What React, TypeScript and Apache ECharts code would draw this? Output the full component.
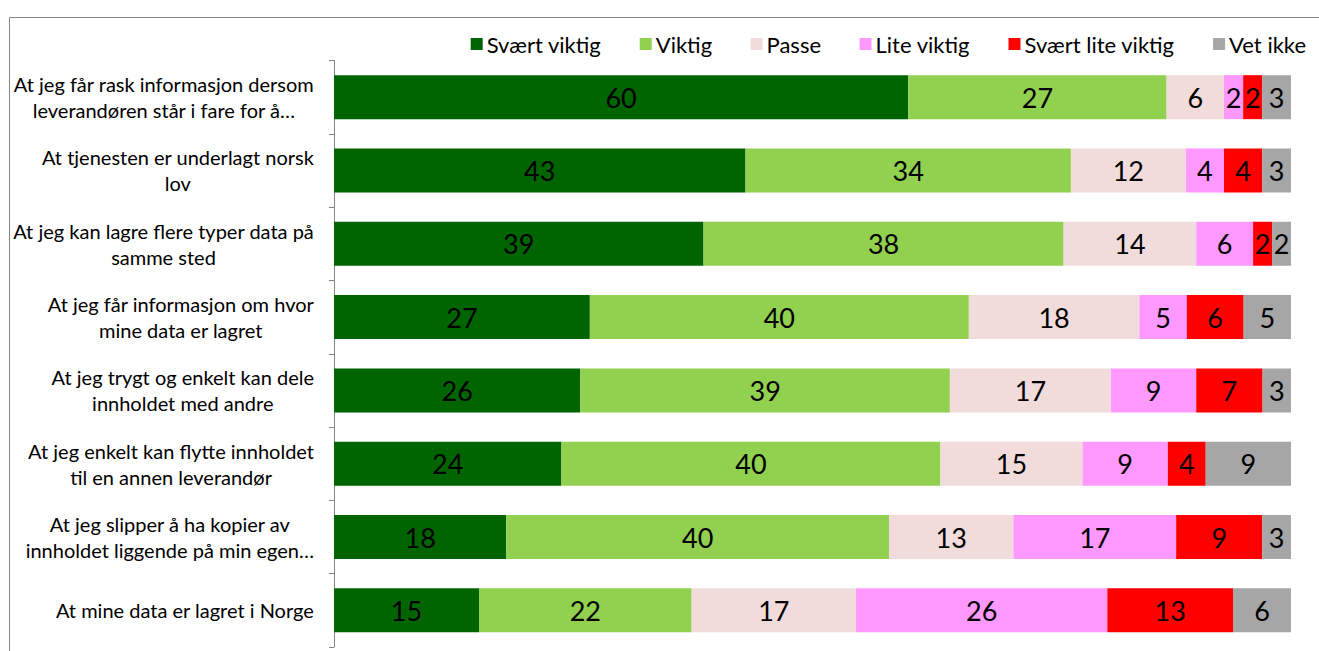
import React, { useEffect, useRef } from "react";
import * as echarts from "echarts";

const categories = [
  "At jeg får rask informasjon dersom\nleverandøren står i fare for å…",
  "At tjenesten er underlagt norsk\nlov",
  "At jeg kan lagre flere typer data på\nsamme sted",
  "At jeg får informasjon om hvor\nmine data er lagret",
  "At jeg trygt og enkelt kan dele\ninnholdet med andre",
  "At jeg enkelt kan flytte innholdet\ntil en annen leverandør",
  "At jeg slipper å ha kopier av\ninnholdet liggende på min egen…",
  "At mine data er lagret i Norge",
];

const seriesNames = ["Svært viktig", "Viktig", "Passe", "Lite viktig", "Svært lite viktig", "Vet ikke"];
const colors = ["#006400", "#92D050", "#F2DCDB", "#FF99FF", "#FF0000", "#A6A6A6"];

const svaertViktig = [60, 43, 39, 27, 26, 24, 18, 15];
const viktig = [27, 34, 38, 40, 39, 40, 40, 22];
const passe = [6, 12, 14, 18, 17, 15, 13, 17];
const liteViktig = [2, 4, 6, 5, 9, 9, 17, 26];
const svaertLiteViktig = [2, 4, 2, 6, 7, 4, 9, 13];
const vetIkke = [3, 3, 2, 5, 3, 9, 3, 6];

const allSeries = [svaertViktig, viktig, passe, liteViktig, svaertLiteViktig, vetIkke];

const FONT = "Lato, 'Open Sans', sans-serif";

export default function App() {
  const ref = useRef<HTMLDivElement>(null);
  useEffect(() => {
    if (!ref.current) return;
    const chart = echarts.init(ref.current, undefined, { renderer: "svg" });
    const totals = categories.map((_, i) => allSeries.reduce((s, arr) => s + arr[i], 0));
    const series = allSeries.map((arr, si) => ({
      name: seriesNames[si],
      type: "bar",
      stack: "total",
      barWidth: "60%",
      itemStyle: { color: colors[si] },
      label: {
        show: true,
        position: "inside",
        color: "#000",
        fontSize: 27,
        fontFamily: FONT,
        formatter: (p: any) => String(arr[p.dataIndex]),
      },
      data: arr.map((v, i) => (v / totals[i]) * 100),
    }));
    chart.setOption({
      animation: false,
      textStyle: { fontFamily: FONT },
      graphic: [
        {
          type: "rect",
          shape: { x: 9.5, y: 17.5, width: 3000, height: 3000 },
          style: { fill: "none", stroke: "#868686", lineWidth: 1 },
          silent: true,
        },
      ],
      legend: {
        right: 8,
        top: 28,
        itemWidth: 12,
        itemHeight: 12,
        itemGap: 38.5,
        icon: "rect",
        textStyle: { fontSize: 22, color: "#000", fontFamily: FONT, padding: [0, 0, 0, -1] },
        data: seriesNames,
      },
      grid: { left: 334, right: 28, top: 60.5, bottom: 4, containLabel: false },
      xAxis: { type: "value", min: 0, max: 100, show: false },
      yAxis: {
        type: "category",
        inverse: true,
        data: categories,
        axisLine: { show: true, lineStyle: { color: "#868686", width: 1 } },
        axisTick: { show: true, length: 5, lineStyle: { color: "#868686", width: 1 } },
        axisLabel: {
          margin: 20,
          color: "#000",
          fontSize: 20,
          fontFamily: FONT,
          lineHeight: 26,
          formatter: (v: string) =>
            v
              .split("\n")
              .map((l) => `{c|${l}}`)
              .join("\n"),
          rich: { c: { align: "center", fontSize: 20, fontFamily: FONT, lineHeight: 26, color: "#000" } },
        },
      },
      series,
    });
    return () => chart.dispose();
  }, []);
  return (
    <div
      ref={ref}
      style={{ position: "fixed", left: 0, top: 0, width: 1319, height: 651, background: "#fff" }}
    />
  );
}
